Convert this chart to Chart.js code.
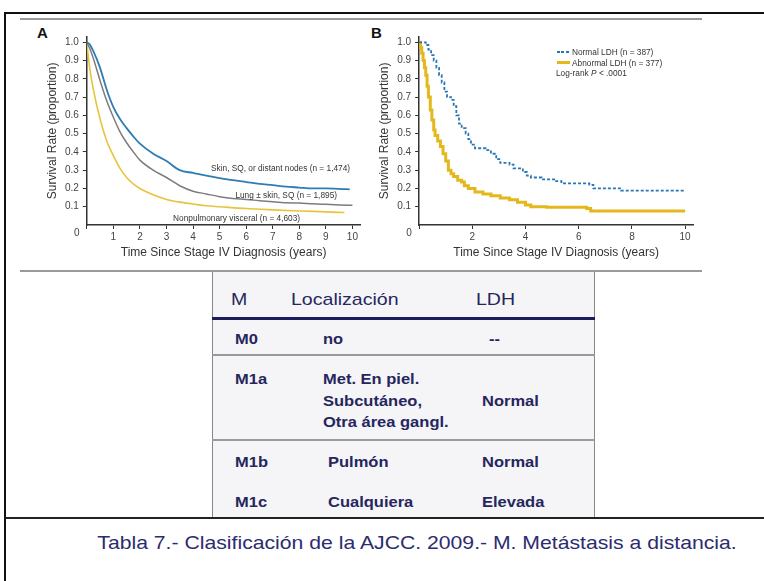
<!DOCTYPE html>
<html>
<head>
<meta charset="utf-8">
<script src="https://cdn.jsdelivr.net/npm/chart.js@4.4.1/dist/chart.umd.min.js"></script>
<style>
    body { margin: 0; width: 764px; height: 581px; background: #fff; position: relative; overflow: hidden; font-family: Arial, "Liberation Sans", sans-serif; }
    .abs { position: absolute; white-space: nowrap; }
    .cell { position: absolute; white-space: nowrap; color: #26265e; transform-origin: left center; }
    .head { font-size: 17px; transform: translateY(-50%) scaleX(1.15); }
    .body { font-size: 15px; font-weight: bold; transform: translateY(-50%) scaleX(1.1); }
    .panel { position: absolute; font-weight: bold; font-size: 15px; color: #111; }
    .leg { position: absolute; white-space: nowrap; color: #333; }
</style>
</head>
<body>
<!-- frame + panel lines -->
<div class="abs" style="left:5px;top:12px;width:759px;height:2px;background:#111"></div>
<div class="abs" style="left:4px;top:12px;width:2px;height:569px;background:#111"></div>
<div class="abs" style="left:20px;top:18px;width:682px;height:2px;background:#9a9a9a"></div>

<!-- table -->
<div class="abs" style="left:212px;top:271px;width:381px;height:247px;background:#f5f5f7;border-left:1.5px solid #888;border-right:1.5px solid #888"></div>
<div class="abs" style="left:20px;top:270px;width:682px;height:2px;background:#9a9a9a"></div>
<div class="abs" style="left:212px;top:317px;width:383px;height:3px;background:#1c1c5c"></div>
<div class="abs" style="left:212px;top:354px;width:383px;height:1.5px;background:#999"></div>
<div class="abs" style="left:212px;top:439px;width:383px;height:1.5px;background:#999"></div>
<div class="abs" style="left:5px;top:517px;width:759px;height:1.5px;background:#222"></div>

<div class="cell head" style="left:231px;top:300px">M</div>
<div class="cell head" style="left:291px;top:300px">Localización</div>
<div class="cell head" style="left:476px;top:300px">LDH</div>

<div class="cell body" style="left:235px;top:338px">M0</div>
<div class="cell body" style="left:323px;top:338px">no</div>
<div class="cell body" style="left:489px;top:338px">--</div>

<div class="cell body" style="left:235px;top:378px">M1a</div>
<div class="cell body" style="left:323px;top:378px">Met. En piel.</div>
<div class="cell body" style="left:323px;top:400px">Subcutáneo,</div>
<div class="cell body" style="left:323px;top:421px">Otra área gangl.</div>
<div class="cell body" style="left:482px;top:400px">Normal</div>

<div class="cell body" style="left:235px;top:461px">M1b</div>
<div class="cell body" style="left:328px;top:461px">Pulmón</div>
<div class="cell body" style="left:482px;top:461px">Normal</div>

<div class="cell body" style="left:235px;top:501px">M1c</div>
<div class="cell body" style="left:328px;top:501px">Cualquiera</div>
<div class="cell body" style="left:482px;top:501px">Elevada</div>

<div class="abs" style="left:0;width:834px;top:532px;text-align:center;font-size:19px;color:#2c2c6e;transform:scaleX(1.115)">Tabla 7.- Clasificación de la AJCC. 2009.- M. Metástasis a distancia.</div>

<!-- charts -->
<div class="panel" style="left:37px;top:24px">A</div>
<div class="panel" style="left:371px;top:24px">B</div>
<canvas id="chartA" width="330" height="250" style="position:absolute;left:40px;top:20px"></canvas>
<canvas id="chartB" width="330" height="250" style="position:absolute;left:372px;top:20px"></canvas>
<div id="legendB"></div>

<script>
// tick values
let yTicks = [0.1, 0.2, 0.3, 0.4, 0.5, 0.6, 0.7, 0.8, 0.9, 1.0]
let xTicksA = [0, 1, 2, 3, 4, 5, 6, 7, 8, 9, 10]
let xTicksB = [0, 2, 4, 6, 8, 10]

// A - by site of metastasis
let namesA = ["Skin, SQ, or distant nodes (n = 1,474)", "Lung ± skin, SQ (n = 1,895)", "Nonpulmonary visceral (n = 4,603)"]
let skinT = [0, 0.1, 0.25, 0.5, 0.75, 1, 1.25, 1.5, 1.75, 2, 2.5, 3, 3.5, 4, 4.5, 5, 5.5, 6, 6.5, 7, 7.5, 8, 8.5, 9, 9.5, 9.9]
let skinV = [1.0, 0.99, 0.95, 0.86, 0.74, 0.645, 0.58, 0.53, 0.485, 0.445, 0.39, 0.35, 0.30, 0.285, 0.27, 0.257, 0.245, 0.235, 0.225, 0.218, 0.21, 0.205, 0.2, 0.2, 0.198, 0.195]
let lungT = [0, 0.1, 0.25, 0.5, 0.75, 1, 1.25, 1.5, 1.75, 2, 2.5, 3, 3.5, 4, 4.5, 5, 5.5, 6, 6.5, 7, 7.5, 8, 8.5, 9, 9.5, 10]
let lungV = [1.0, 0.97, 0.91, 0.79, 0.68, 0.59, 0.51, 0.45, 0.40, 0.355, 0.30, 0.26, 0.215, 0.185, 0.17, 0.155, 0.145, 0.14, 0.133, 0.127, 0.122, 0.12, 0.116, 0.113, 0.11, 0.108]
let viscT = [0, 0.1, 0.25, 0.5, 0.75, 1, 1.25, 1.5, 1.75, 2, 2.5, 3, 3.5, 4, 4.5, 5, 6, 7, 8, 9, 9.7]
let viscV = [1.0, 0.87, 0.74, 0.58, 0.46, 0.38, 0.31, 0.26, 0.225, 0.2, 0.165, 0.14, 0.125, 0.115, 0.105, 0.1, 0.09, 0.083, 0.077, 0.072, 0.068]

// B - by LDH (Kaplan-Meier steps)
let namesB = ["Normal LDH (n = 387)", "Abnormal LDH (n = 377)"]
let normalT = [0, 0.16, 0.25, 0.35, 0.45, 0.55, 0.65, 0.75, 0.85, 0.95, 1.05, 1.2, 1.3, 1.4, 1.5, 1.6, 1.75, 1.85, 1.95, 2.1, 2.5, 2.7, 2.9, 3.05, 3.4, 3.55, 3.9, 4.05, 4.2, 4.6, 5.15, 5.35, 6.4, 6.55, 7.55, 7.6, 9.95]
let normalV = [1.0, 1.0, 0.985, 0.96, 0.93, 0.9, 0.86, 0.82, 0.78, 0.73, 0.70, 0.685, 0.65, 0.6, 0.555, 0.53, 0.5, 0.47, 0.44, 0.42, 0.41, 0.39, 0.36, 0.34, 0.33, 0.31, 0.29, 0.27, 0.26, 0.25, 0.24, 0.228, 0.22, 0.20, 0.20, 0.188, 0.188]
let abnT = [0, 0.05, 0.1, 0.15, 0.2, 0.25, 0.3, 0.35, 0.42, 0.48, 0.55, 0.6, 0.7, 0.8, 0.9, 1.0, 1.1, 1.2, 1.3, 1.45, 1.6, 1.7, 1.85, 2.1, 2.4, 2.7, 3.05, 3.4, 3.7, 4.0, 4.2, 4.8, 6.3, 6.45, 10.0]
let abnV = [1.0, 0.97, 0.94, 0.9, 0.86, 0.82, 0.76, 0.70, 0.63, 0.575, 0.52, 0.49, 0.46, 0.43, 0.39, 0.35, 0.30, 0.28, 0.265, 0.245, 0.235, 0.215, 0.2, 0.18, 0.17, 0.16, 0.148, 0.138, 0.125, 0.11, 0.10, 0.097, 0.09, 0.076, 0.076]

// is the condensed font there? otherwise fall back to a smaller Arial
function hasFont(name) {
    let c = document.createElement("canvas").getContext("2d")
    c.font = "40px monospace"
    let w1 = c.measureText("Time Since Stage IV").width
    c.font = "40px '" + name + "', monospace"
    let w2 = c.measureText("Time Since Stage IV").width
    return w1 !== w2
}
let narrow = hasFont("Liberation Sans Narrow")
let titleFont = narrow ? { family: "'Liberation Sans Narrow'", size: 14, lineHeight: 1.2 } : { family: "Arial", size: 12, lineHeight: 1.2 }
let tickFont = { family: "Arial", size: 10 }
let noteSize = narrow ? 10 : 8.3
let noteFamily = narrow ? "'Liberation Sans Narrow'" : "Arial"
let lh = titleFont.size * 1.2

function pts(t, v) {
    return t.map((x, i) => ({ x: x, y: v[i] }))
}

function axes(xTicks, yWidth) {
    return {
        x: {
            type: "linear", min: 0, max: 10.3,
            afterBuildTicks: s => { s.ticks = xTicks.map(v => ({ value: v })) },
            afterFit: s => { s.height = 45 },
            grid: { drawOnChartArea: false, drawTicks: true, tickLength: 4, color: "#333" },
            border: { color: "#333", width: 1.5 },
            ticks: { color: "#444", font: tickFont, padding: 2, maxRotation: 0, autoSkip: false, callback: v => v === 0 ? "" : v },
            title: { display: true, text: "Time Since Stage IV Diagnosis (years)", color: "#333", font: titleFont, padding: { top: 0, bottom: 17 - lh / 2 } }
        },
        y: {
            min: 0, max: 1.03,
            afterBuildTicks: s => { s.ticks = yTicks.map(v => ({ value: v })) },
            afterFit: s => { s.width = yWidth },
            grid: { drawOnChartArea: false, drawTicks: true, tickLength: 4, color: "#333" },
            border: { color: "#333", width: 1.5 },
            ticks: { color: "#444", font: tickFont, padding: 4, callback: v => v.toFixed(1) },
            title: { display: true, text: "Survival Rate (proportion)", color: "#333", font: titleFont, padding: { top: 13 - lh / 2, bottom: 0 } }
        }
    }
}

// labels next to the curves + the shared "0" at the origin
let notes = {
    id: "notes",
    afterDatasetsDraw(chart, args, opts) {
        let ctx = chart.ctx, xs = chart.scales.x, ys = chart.scales.y
        ctx.save()
        ctx.textBaseline = "middle"
        ctx.font = noteSize + "px " + noteFamily
        ctx.fillStyle = "#333"
        ctx.textAlign = "right"
        ;(opts.items || []).forEach(it => ctx.fillText(it.text, xs.getPixelForValue(it.x), ys.getPixelForValue(it.y)))
        ctx.textAlign = "center"
        ctx.font = tickFont.size + "px Arial"
        ctx.fillStyle = "#444"
        ctx.fillText("0", xs.left - 10, ys.bottom + 8.5)
        ctx.restore()
    }
}

let blueA = "rgb(45,125,180)", grayA = "rgb(125,125,125)", yellowA = "rgb(232,196,60)"
let blueB = "rgb(40,118,182)", yellowB = "rgb(228,184,28)"

new Chart(document.getElementById("chartA"), {
    type: "line",
    data: {
        datasets: [
            { label: namesA[0], data: pts(skinT, skinV), borderColor: blueA, borderWidth: 1.8, pointRadius: 0, cubicInterpolationMode: "monotone" },
            { label: namesA[1], data: pts(lungT, lungV), borderColor: grayA, borderWidth: 1.5, pointRadius: 0, cubicInterpolationMode: "monotone" },
            { label: namesA[2], data: pts(viscT, viscV), borderColor: yellowA, borderWidth: 1.6, pointRadius: 0, cubicInterpolationMode: "monotone" }
        ]
    },
    options: {
        responsive: false, animation: false,
        layout: { padding: { top: 16.8, right: 9.6, left: 0, bottom: 0 } },
        scales: axes(xTicksA, 46.8),
        plugins: {
            legend: { display: false }, tooltip: { enabled: false },
            notes: { items: [
                { text: namesA[0], x: 9.91, y: 0.306 },
                { text: namesA[1], x: 9.42, y: 0.159 },
                { text: namesA[2], x: 8.03, y: 0.033 }
            ] }
        }
    },
    plugins: [notes]
})

new Chart(document.getElementById("chartB"), {
    type: "line",
    data: {
        datasets: [
            { label: namesB[0], data: pts(normalT, normalV), borderColor: blueB, borderWidth: 1.8, borderDash: [3, 2], pointRadius: 0, stepped: true },
            { label: namesB[1], data: pts(abnT, abnV), borderColor: yellowB, borderWidth: 3, pointRadius: 0, stepped: true }
        ]
    },
    options: {
        responsive: false, animation: false,
        layout: { padding: { top: 16.8, right: 8.9, left: 0, bottom: 0 } },
        scales: axes(xTicksB, 47.1),
        plugins: { legend: { display: false }, tooltip: { enabled: false }, notes: { items: [] } }
    },
    plugins: [notes]
})

// legend for B
let leg = document.getElementById("legendB")
let sw = [
    "repeating-linear-gradient(90deg," + blueB + " 0 3px, transparent 3px 4.5px)",
    yellowB
]
let swH = [2, 3]
let rowY = [52.3, 62.7]
namesB.forEach((n, i) => {
    leg.innerHTML += '<div class="leg" style="left:557px;top:' + (rowY[i] - swH[i] / 2) + 'px;width:13px;height:' + swH[i] + 'px;background:' + sw[i] + '"></div>'
    leg.innerHTML += '<div class="leg" style="left:572px;top:' + rowY[i] + 'px;transform:translateY(-50%);font:' + noteSize + 'px ' + noteFamily + '">' + n + '</div>'
})
leg.innerHTML += '<div class="leg" style="left:556px;top:73.3px;transform:translateY(-50%);font:' + noteSize + 'px ' + noteFamily + '">Log-rank <i>P</i> &lt; .0001</div>'
</script>
</body>
</html>
